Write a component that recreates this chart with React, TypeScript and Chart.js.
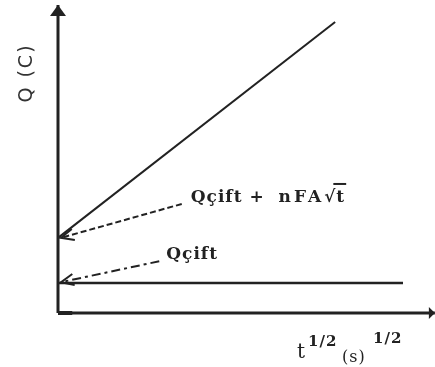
import { useEffect, useRef } from "react";
import { Chart, registerables } from "chart.js";

Chart.register(...registerables);

// Schematic Q vs t^(1/2): values in arbitrary units (x: 0..100, y: 0..100)
const xAxisLine = [
  { x: 0, y: 0 },
  { x: 100.5, y: 0 },
];
const yAxisLine = [
  { x: 0, y: 0 },
  { x: 0, y: 100 },
];
const originTick = [
  { x: 0, y: 0 },
  { x: 3.8, y: 0 },
];
const totalChargeLine = [
  { x: 0, y: 24.4 },
  { x: 73.9, y: 94.5 },
];
const doubleLayerLine = [
  { x: 0, y: 9.7 },
  { x: 92, y: 9.7 },
];
const totalArrow = [
  { x: 33.0, y: 35.4 },
  { x: 0.8, y: 24.4 },
];
const doubleLayerArrow = [
  { x: 27.0, y: 16.8 },
  { x: 0.8, y: 10.0 },
];

const yTitle = "Q (C)";
const totalLabelHead = "Qçift +  ";
const totalLabelTerm = "nFA";
const rootSign = "√";
const rootArg = "t";
const doubleLayerLabel = "Qçift";
const xTitleMain = "t";
const xTitleExp = "1/2";
const xTitleUnit = "(s)";

const INK = "#222";

const drawingPlugin = {
  id: "schematicDecor",
  afterDatasetsDraw(chart: any) {
    const ctx = chart.ctx as CanvasRenderingContext2D;
    const xs = chart.scales.x;
    const ys = chart.scales.y;
    const px = (p: { x: number; y: number }) => ({
      x: xs.getPixelForValue(p.x),
      y: ys.getPixelForValue(p.y),
    });

    ctx.save();
    ctx.fillStyle = INK;
    ctx.strokeStyle = INK;

    // filled axis arrowheads
    const yTip = px(yAxisLine[1]);
    ctx.beginPath();
    ctx.moveTo(yTip.x, yTip.y);
    ctx.lineTo(yTip.x - 8, yTip.y + 11);
    ctx.lineTo(yTip.x + 8, yTip.y + 11);
    ctx.closePath();
    ctx.fill();

    const xTip = px(xAxisLine[1]);
    ctx.beginPath();
    ctx.moveTo(xTip.x, xTip.y);
    ctx.lineTo(xTip.x - 6, xTip.y - 6);
    ctx.lineTo(xTip.x - 6, xTip.y + 6);
    ctx.closePath();
    ctx.fill();

    // open arrowheads at the ends of the pointer lines
    const barbs = (data: { x: number; y: number }[]) => {
      const tail = px(data[0]);
      const tip = px(data[1]);
      const ang = Math.atan2(tail.y - tip.y, tail.x - tip.x);
      const len = 14;
      const spread = 0.42;
      ctx.lineWidth = 2;
      ctx.setLineDash([]);
      ctx.beginPath();
      ctx.moveTo(tip.x + len * Math.cos(ang - spread), tip.y + len * Math.sin(ang - spread));
      ctx.lineTo(tip.x, tip.y);
      ctx.lineTo(tip.x + len * Math.cos(ang + spread), tip.y + len * Math.sin(ang + spread));
      ctx.stroke();
    };
    barbs(totalArrow);
    barbs(doubleLayerArrow);

    // labels beside the pointer tails
    const labelFont = "bold 17px 'DejaVu Serif'";
    ctx.textBaseline = "alphabetic";
    ctx.textAlign = "left";
    ctx.font = labelFont;
    const t1 = px(totalArrow[0]);
    let cx = t1.x + 9;
    const l1y = t1.y - 2;
    (ctx as any).letterSpacing = "1px";
    ctx.fillText(totalLabelHead, cx, l1y);
    cx += ctx.measureText(totalLabelHead).width;
    (ctx as any).letterSpacing = "3px";
    ctx.fillText(totalLabelTerm, cx, l1y);
    cx += ctx.measureText(totalLabelTerm).width;
    (ctx as any).letterSpacing = "1px";
    ctx.fillText(rootSign, cx, l1y);
    cx += ctx.measureText(rootSign).width;
    ctx.fillText(rootArg, cx, l1y);
    const wa = ctx.measureText(rootArg).width;
    ctx.lineWidth = 2;
    ctx.beginPath();
    ctx.moveTo(cx - 3, l1y - 18);
    ctx.lineTo(cx + wa + 1, l1y - 18);
    ctx.stroke();

    const t2 = px(doubleLayerArrow[0]);
    ctx.font = labelFont;
    ctx.fillText(doubleLayerLabel, t2.x + 7, t2.y - 2);

    // axis titles
    const area = chart.chartArea;
    ctx.save();
    ctx.translate(area.left - 31, area.top + 68);
    ctx.rotate(-Math.PI / 2);
    ctx.textAlign = "center";
    ctx.textBaseline = "middle";
    (ctx as any).letterSpacing = "2px";
    ctx.font = "19px 'DejaVu Sans'";
    ctx.fillStyle = "#333";
    ctx.fillText(yTitle, 0, 0);
    ctx.restore();

    const bx = 297;
    const by = area.bottom + 45;
    (ctx as any).letterSpacing = "0px";
    ctx.font = "20px 'DejaVu Serif'";
    ctx.fillText(xTitleMain, bx, by);
    (ctx as any).letterSpacing = "1px";
    ctx.font = "bold 15px 'DejaVu Serif'";
    ctx.fillText(xTitleExp, bx + 11, by - 12);
    ctx.font = "16px 'DejaVu Serif'";
    ctx.fillText(xTitleUnit, bx + 45, by + 4);
    ctx.font = "bold 15px 'DejaVu Serif'";
    ctx.fillText(xTitleExp, bx + 76, by - 15);

    ctx.restore();
  },
};

export default function App() {
  const canvasRef = useRef<HTMLCanvasElement | null>(null);

  useEffect(() => {
    document.body.style.margin = "0";
    const canvas = canvasRef.current;
    if (!canvas) return;
    const solid = (data: any[], width: number) => ({
      data,
      borderColor: INK,
      borderWidth: width,
      pointRadius: 0,
      fill: false,
      clip: false as any,
    });
    const chart = new Chart(canvas, {
      type: "line",
      data: {
        datasets: [
          solid(xAxisLine, 3),
          solid(yAxisLine, 3),
          solid(originTick, 4),
          solid(totalChargeLine, 2),
          solid(doubleLayerLine, 2.5),
          { ...solid(totalArrow, 2), borderDash: [6, 3] },
          { ...solid(doubleLayerArrow, 2), borderDash: [9, 4, 3, 4] },
        ],
      },
      options: {
        animation: false,
        responsive: false,
        maintainAspectRatio: false,
        parsing: false as any,
        layout: { padding: { left: 58, right: 2, top: 5, bottom: 54 } },
        plugins: {
          legend: { display: false },
          tooltip: { enabled: false },
        },
        scales: {
          x: { type: "linear", min: 0, max: 100, display: false },
          y: { type: "linear", min: 0, max: 100, display: false },
        },
      },
      plugins: [drawingPlugin],
    });
    return () => chart.destroy();
  }, []);

  return (
    <div style={{ width: 435, height: 367, background: "#fff" }}>
      <canvas ref={canvasRef} width={435} height={367} />
    </div>
  );
}
